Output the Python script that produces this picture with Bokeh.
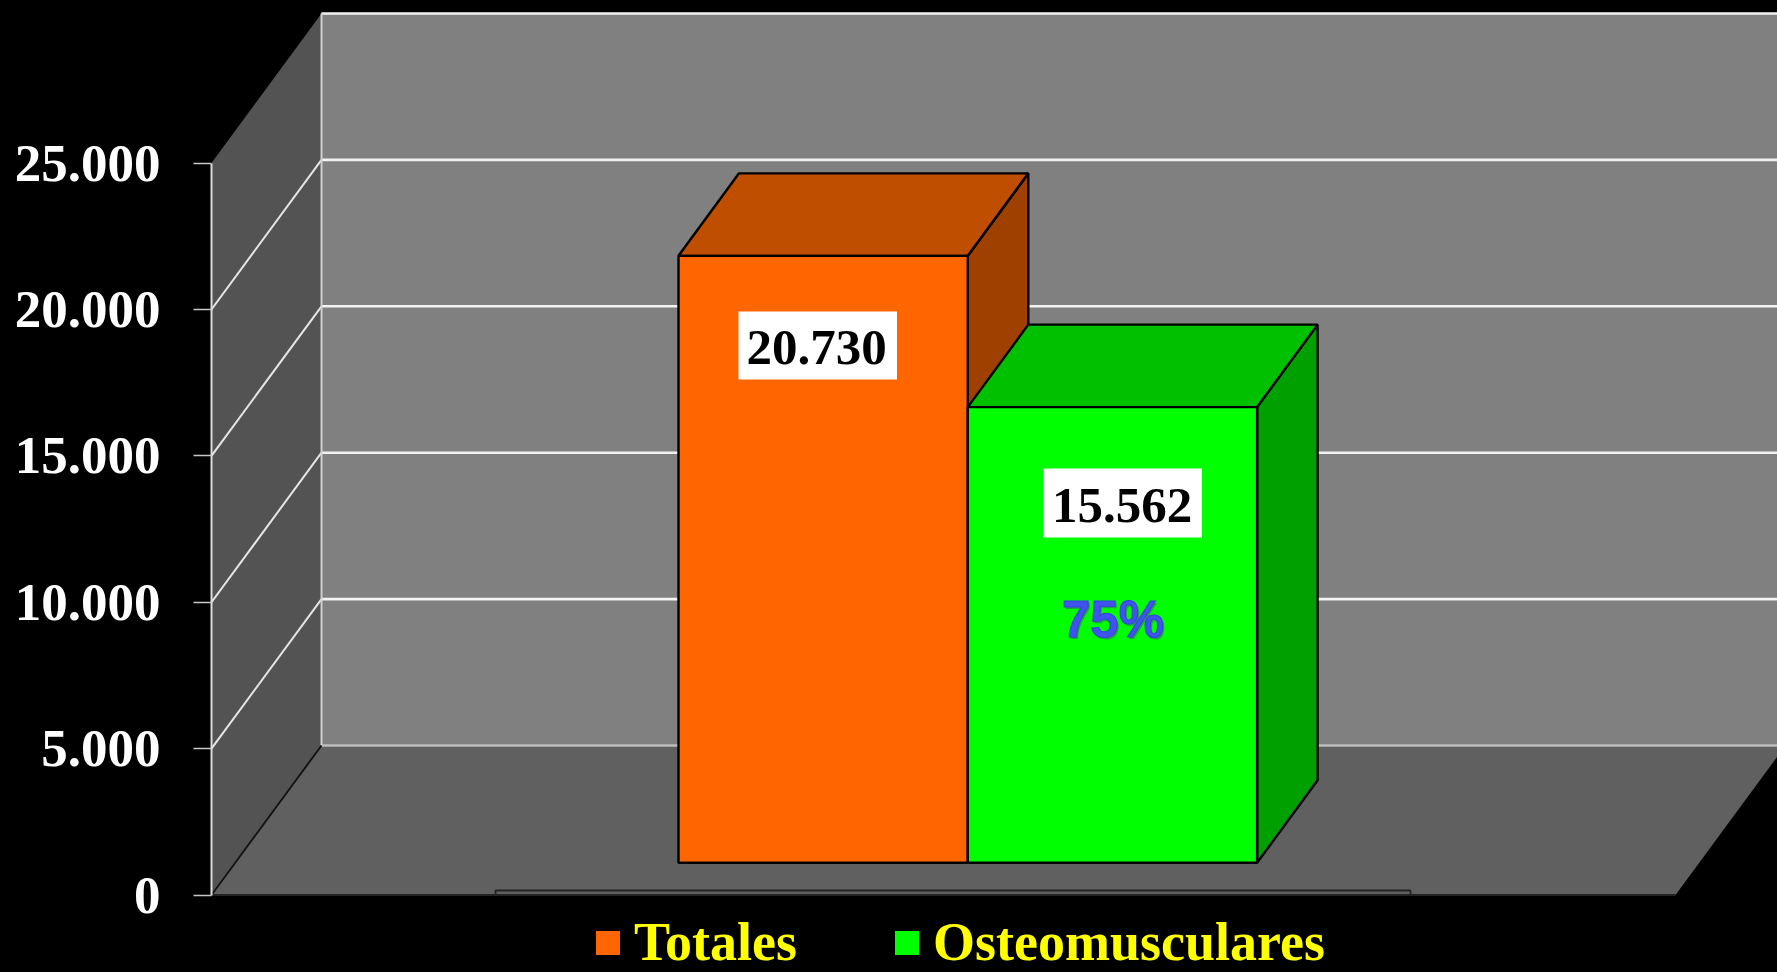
from bokeh.core.properties import value
from bokeh.embed import file_html
from bokeh.models import FixedTicker, Legend, LegendItem, Range1d
from bokeh.plotting import figure
from bokeh.resources import INLINE

# ---- data ----
categories = ["Totales", "Osteomusculares"]
values = [20730, 15562]
value_labels = ["20.730", "15.562"]
tick_values = [0, 5000, 10000, 15000, 20000, 25000]
tick_labels = ["0", "5.000", "10.000", "15.000", "20.000", "25.000"]
note_label = "75%"

# ---- colours ----
front_colors = ["#FF6600", "#00FF00"]
top_colors = ["#C04E00", "#00C000"]
side_colors = ["#A04000", "#00A000"]

# ---- layout (page pixels) ----
W, H = 1777, 972
FRONT_X, ZERO_Y = 211, 894.5
PX_PER_UNIT = 146.4 / 5000
DEPTH_X, DEPTH_Y = 110, 149.5 / PX_PER_UNIT
WALL_RIGHT = 1675
BAR_LEFT, BAR_W = 678, 289.3
BAR_DX, BAR_DY = 60.5, 82.5 / PX_PER_UNIT
BAR_BASE = 32.2 / PX_PER_UNIT
vmax = tick_values[-1]

p = figure(
    width=W, height=H, output_backend="svg", toolbar_location=None, tools="",
    x_range=Range1d(FRONT_X, W),
    y_range=Range1d(-(H - ZERO_Y) / PX_PER_UNIT, ZERO_Y / PX_PER_UNIT),
    x_axis_location=None, min_border_left=FRONT_X, min_border_right=0,
    min_border_top=0, min_border_bottom=0,
    background_fill_color="#000000", border_fill_color="#000000",
    outline_line_color=None,
)
p.grid.visible = False

ax = p.yaxis[0]
ax.ticker = FixedTicker(ticks=tick_values)
ax.major_label_overrides = dict(zip(tick_values, tick_labels))
ax.bounds = (0, vmax)
ax.axis_line_color = "#DDDDDD"
ax.axis_line_width = 2
ax.major_tick_line_color = "#C8C8C8"
ax.major_tick_line_width = 1.5
ax.major_tick_out = 18
ax.major_tick_in = 0
ax.minor_tick_line_color = None
ax.major_label_standoff = 33
ax.major_label_text_color = "#FFFFFF"
ax.major_label_text_font = "Liberation Serif"
ax.major_label_text_font_style = "bold"
ax.major_label_text_font_size = "53px"

# floor, side wall, back wall
p.patch([FRONT_X, WALL_RIGHT, WALL_RIGHT + DEPTH_X, FRONT_X + DEPTH_X],
        [0, 0, DEPTH_Y, DEPTH_Y], fill_color="#606060", line_color=None)
p.patch([FRONT_X, FRONT_X + DEPTH_X, FRONT_X + DEPTH_X, FRONT_X],
        [0, DEPTH_Y, vmax + DEPTH_Y, vmax], fill_color="#535353", line_color=None)
p.quad(left=[FRONT_X + DEPTH_X], right=[WALL_RIGHT + DEPTH_X], bottom=[DEPTH_Y],
       top=[vmax + DEPTH_Y], fill_color="#808080", line_color=None)

# grid lines
for i, t in enumerate(tick_values):
    col = "#BDBDBD" if t == 0 else "#F2F2F2"
    p.line([FRONT_X + DEPTH_X, WALL_RIGHT + DEPTH_X], [t + DEPTH_Y, t + DEPTH_Y],
           line_color=col, line_width=2.6)
    if t > 0 and t < vmax:
        p.line([FRONT_X, FRONT_X + DEPTH_X], [t, t + DEPTH_Y],
               line_color="#E6E6E6", line_width=2)
p.line([FRONT_X + DEPTH_X, FRONT_X + DEPTH_X], [DEPTH_Y, vmax + DEPTH_Y],
       line_color="#CFCFCF", line_width=2)

# floor edges and the thin base box
p.line([FRONT_X, FRONT_X + DEPTH_X], [0, DEPTH_Y], line_color="#111111", line_width=1.8)
p.line([FRONT_X, WALL_RIGHT], [0, 0], line_color="#222222", line_width=1.8)
p.quad(left=[495], right=[1410], bottom=[0], top=[4.5 / PX_PER_UNIT],
       fill_color="#606060", line_color="#222222", line_width=1.8)

# bars
legend_items = []
for i, (cat, v) in enumerate(zip(categories, values)):
    x0 = BAR_LEFT + i * BAR_W
    x1 = x0 + BAR_W
    y0, y1 = BAR_BASE, BAR_BASE + v
    p.patch([x1, x1 + BAR_DX, x1 + BAR_DX, x1], [y0, y0 + BAR_DY, y1 + BAR_DY, y1],
            fill_color=side_colors[i], line_color="#000000", line_width=2.4)
    p.patch([x0, x0 + BAR_DX, x1 + BAR_DX, x1], [y1, y1 + BAR_DY, y1 + BAR_DY, y1],
            fill_color=top_colors[i], line_color="#000000", line_width=2.4)
    r = p.quad(left=[x0], right=[x1], bottom=[y0], top=[y1], fill_color=front_colors[i],
               line_color="#000000", line_width=2.4)
    legend_items.append(LegendItem(label=cat, renderers=[r]))


def py(px):
    return (ZERO_Y - px) / PX_PER_UNIT


# value labels
label_boxes = [(738, 896.5, 311, 379), (1043, 1201.5, 468, 537)]
label_centres = [(816, 347), (1121.5, 505)]
for lab, (l, r_, t_, b_), (cx, cy) in zip(value_labels, label_boxes, label_centres):
    p.quad(left=[l], right=[r_], top=[py(t_)], bottom=[py(b_)], fill_color="#FFFFFF", line_color=None)
    p.text(x=[cx], y=[py(cy)], text=[lab], text_color="#000000", text_font=value("Liberation Serif"),
           text_font_style="bold", text_font_size="51px", text_align="center", text_baseline="middle")

# 75 %
p.text(x=[1114], y=[py(621)], text=[note_label], text_color="#2E7F5E", text_alpha=0.7,
       text_font=value("Liberation Sans"), text_font_style="bold", text_font_size="51px",
       text_align="center", text_baseline="middle")
p.text(x=[1112.5], y=[py(619)], text=[note_label], text_color="#4053EC", text_outline_color="#3445DC",
       text_font=value("Liberation Sans"), text_font_style="bold", text_font_size="51px",
       text_align="center", text_baseline="middle")

# legend
legend = Legend(items=legend_items, orientation="horizontal", location=(380, -1),
                background_fill_alpha=0, border_line_color=None, margin=0, padding=0,
                glyph_width=33, glyph_height=33, label_standoff=10, spacing=93,
                label_text_color="#FFFF00", label_text_font="Liberation Serif",
                label_text_font_style="bold", label_text_font_size="54px")
p.add_layout(legend, "center")

html = file_html(p, INLINE)
html = html.replace("<head>", "<head><style>html,body{background:#000;margin:0;overflow:hidden}</style>", 1)
open("out.html", "w").write(html)
